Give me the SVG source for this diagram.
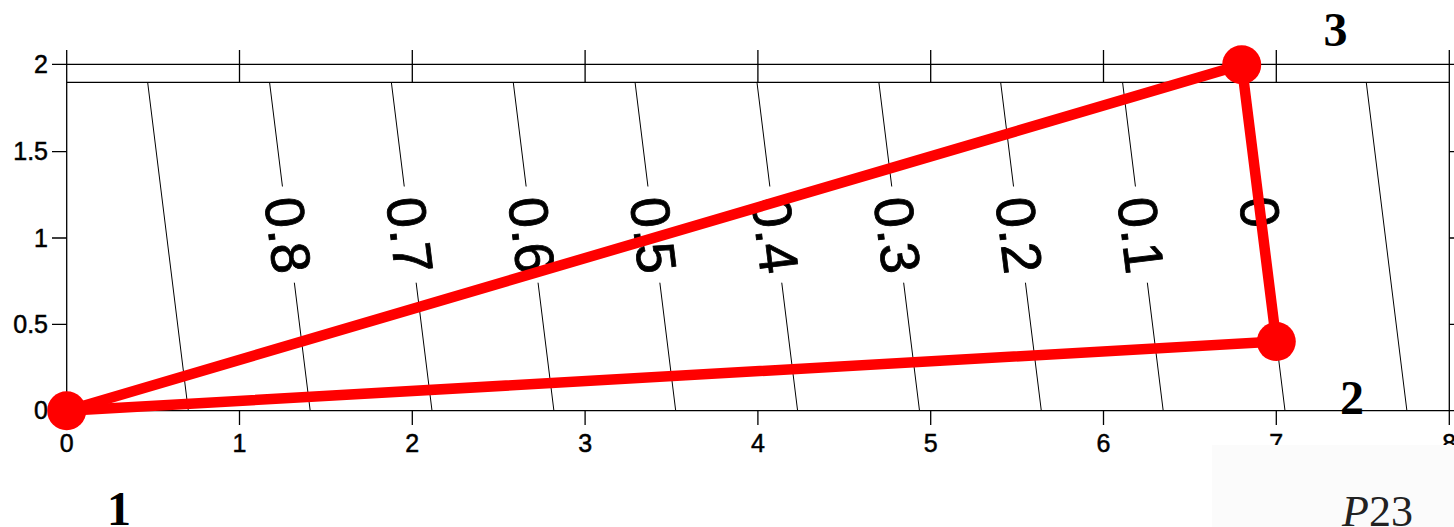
<svg xmlns="http://www.w3.org/2000/svg" width="1454" height="527" viewBox="0 0 1454 527">
<style>
.ax{stroke:#000;stroke-width:1.3;fill:none}
.ct{stroke:#000;stroke-width:1;fill:none}
.tk{font-family:"Liberation Sans",Arial,sans-serif;font-size:25px;fill:#000;stroke:#000;stroke-width:0.5}
.cl{font-family:"Liberation Sans",Arial,sans-serif;font-size:55px;fill:#000;stroke:#000;stroke-width:0.8;text-anchor:middle}
.edge{stroke:#ff0000;stroke-width:10.5;stroke-linecap:round;fill:none}
.pt{fill:#ff0000}
.nl{font-family:"Liberation Serif","Times New Roman",serif;font-size:48px;font-weight:bold;fill:#000;text-anchor:middle}
</style>
<rect width="1454" height="527" fill="#fff"/>
<g id="axes">
<path class="ax" d="M66.7,50V410.7M1449.3,50V425M52,64.3H1454M66.7,82.3H1449.3M52,410.7H1454"/>
<path class="ax" d="M52,151.6H66.7M52,238H66.7M52,324.3H66.7M1449.3,151.6H1454M1449.3,238H1454M1449.3,324.3H1454"/>
<path class="ax" d="M66.7,410.7V425M239.5,50V82.3M239.5,410.7V425M412.3,50V82.3M412.3,410.7V425M585.1,50V82.3M585.1,410.7V425M757.9,50V82.3M757.9,410.7V425M930.7,50V82.3M930.7,410.7V425M1103.5,50V82.3M1103.5,410.7V425M1276.3,50V82.3M1276.3,410.7V425"/>
<g class="tk" text-anchor="end">
<text x="48" y="73">2</text>
<text x="48" y="160.3">1.5</text>
<text x="48" y="246.7">1</text>
<text x="48" y="333">0.5</text>
<text x="48" y="419.4">0</text>
</g>
<g class="tk" text-anchor="middle">
<text x="66.7" y="451.7">0</text>
<text x="239.5" y="451.7">1</text>
<text x="412.3" y="451.7">2</text>
<text x="585.1" y="451.7">3</text>
<text x="757.9" y="451.7">4</text>
<text x="930.7" y="451.7">5</text>
<text x="1103.5" y="451.7">6</text>
<text x="1276.3" y="451.7">7</text>
<text x="1449.3" y="451.7">8</text>
</g>
</g>
<g id="contours">
<path class="ct" d="M147.7,82.6L188.3,410.7"/>
<path class="ct" d="M269.6,82.6L282.45,186.5M294.35,282.7L310.2,410.7"/>
<path class="ct" d="M391.4,82.6L404.25,186.5M416.15,282.7L432,410.7"/>
<path class="ct" d="M513.3,82.6L526.15,186.5M538.05,282.7L553.9,410.7"/>
<path class="ct" d="M635.1,82.6L647.95,186.5M659.85,282.7L675.7,410.7"/>
<path class="ct" d="M757,82.6L769.85,186.5M781.75,282.7L797.6,410.7"/>
<path class="ct" d="M878.9,82.6L891.75,186.5M903.65,282.7L919.5,410.7"/>
<path class="ct" d="M1000.7,82.6L1013.55,186.5M1025.45,282.7L1041.3,410.7"/>
<path class="ct" d="M1122.6,82.6L1135.45,186.5M1147.35,282.7L1163.2,410.7"/>
<path class="ct" d="M1244.4,82.6L1257.4,188M1263.4,236L1285,410.7"/>
<path class="ct" d="M1366.3,82.6L1406.9,410.7"/>
<text class="cl" transform="translate(288.45,235) rotate(82.95)" y="19.7">0.8</text>
<text class="cl" transform="translate(410.25,235) rotate(82.95)" y="19.7">0.7</text>
<text class="cl" transform="translate(532.15,235) rotate(82.95)" y="19.7">0.6</text>
<text class="cl" transform="translate(653.95,235) rotate(82.95)" y="19.7">0.5</text>
<text class="cl" transform="translate(775.85,235) rotate(82.95)" y="19.7">0.4</text>
<text class="cl" transform="translate(897.75,235) rotate(82.95)" y="19.7">0.3</text>
<text class="cl" transform="translate(1019.55,235) rotate(82.95)" y="19.7">0.2</text>
<text class="cl" transform="translate(1141.45,235) rotate(82.95)" y="19.7">0.1</text>
<text class="cl" transform="translate(1260.4,212) rotate(82.95)" y="19.7">0</text>
</g>
<g id="connectors">
<line class="edge" x1="66.7" y1="410.7" x2="1276.3" y2="341.6"/>
<line class="edge" x1="66.7" y1="410.7" x2="1241.7" y2="64.8"/>
<line class="edge" x1="1276.3" y1="341.6" x2="1241.7" y2="64.8"/>
</g>
<g id="node1">
<circle class="pt" cx="66.7" cy="410.7" r="19.5"/>
<text class="nl" x="119" y="525">1</text>
</g>
<g id="node2">
<circle class="pt" cx="1276.3" cy="341.6" r="19.5"/>
<text class="nl" x="1352" y="414">2</text>
</g>
<g id="node3">
<circle class="pt" cx="1241.7" cy="64.8" r="19.5"/>
<text class="nl" x="1335.5" y="45.7">3</text>
</g>
<g id="caption">
<rect x="1212" y="445" width="242" height="82" fill="#fbfbfb"/>
<text x="1342" y="526" font-family="'Liberation Serif','Times New Roman',serif" font-size="44" fill="#222"><tspan font-style="italic">P</tspan>23</text>
</g>
</svg>
